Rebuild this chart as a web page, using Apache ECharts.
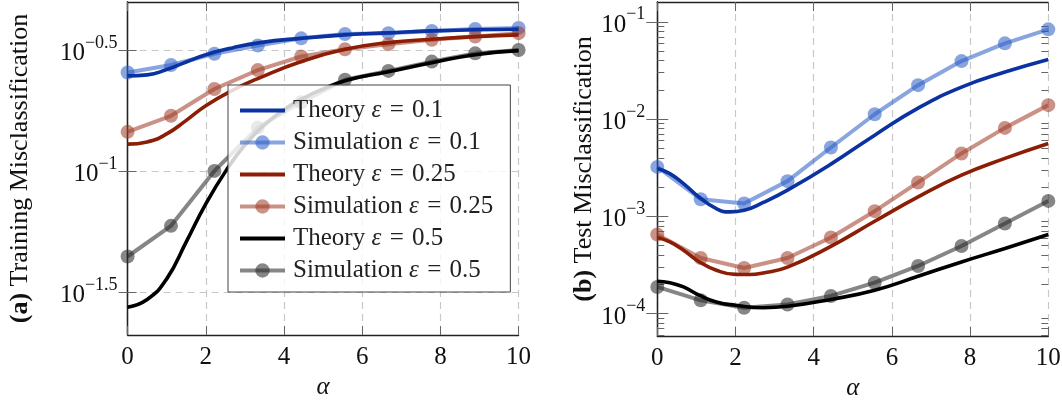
<!DOCTYPE html>
<html>
<head>
<meta charset="utf-8">
<script src="https://cdn.jsdelivr.net/npm/echarts@6/dist/echarts.min.js"></script>
<style>html,body{margin:0;padding:0;background:#fff}#c{width:1062px;height:403px}</style>
</head>
<body>
<div id="c"></div>
<script>
// ---------- data ----------
const simAlpha = [0, 1.11, 2.22, 3.33, 4.44, 5.56, 6.67, 7.78, 8.89, 10];
const xTicks = [0, 2, 4, 6, 8, 10];

// (a) training misclassification
const trainSim01  = [0.255, 0.274, 0.305, 0.330, 0.353, 0.368, 0.371, 0.379, 0.386, 0.390];
const trainSim025 = [0.145, 0.169, 0.218, 0.261, 0.297, 0.318, 0.334, 0.348, 0.359, 0.371];
const trainSim05  = [0.0443, 0.0593, 0.100, 0.151, 0.192, 0.238, 0.259, 0.283, 0.306, 0.316];

const trainTh01X = [0, 0.5, 1.0, 1.5, 2.0, 2.70, 3.39, 4.41, 5.56, 6.67, 7.78, 8.89, 10];
const trainTh01  = [0.247, 0.2493, 0.2623, 0.282, 0.302, 0.323, 0.339, 0.353, 0.365, 0.372, 0.379, 0.383, 0.385];
const trainTh025X = [0, 0.5, 1.0, 1.5, 2.0, 2.70, 3.39, 4.41, 5.56, 6.67, 7.78, 8.89, 10];
const trainTh025  = [0.129, 0.1318, 0.1422, 0.1618, 0.186, 0.216, 0.243, 0.282, 0.318, 0.339, 0.350, 0.359, 0.365];
const trainTh05X = [0, 0.5, 1.0, 1.5, 2.0, 2.53, 3.0, 3.5, 4.0, 4.5, 5.0, 5.56, 6.67, 7.78, 8.89, 10];
const trainTh05  = [0.02735, 0.0294, 0.0358, 0.0509, 0.0731, 0.101, 0.128, 0.155, 0.179, 0.200, 0.218, 0.236, 0.257, 0.280, 0.302, 0.314];
const trainYTicks = [Math.pow(10, -1.5), Math.pow(10, -1), Math.pow(10, -0.5)];
const trainYTickLabels = ['−1.5', '−1', '−0.5'];

// (b) test misclassification
const testSim01  = [3.22e-3, 1.50e-3, 1.355e-3, 2.30e-3, 5.10e-3, 0.0112, 0.0223, 0.0394, 0.060, 0.0835];
const testSim025 = [6.50e-4, 3.73e-4, 2.94e-4, 3.73e-4, 6.05e-4, 1.13e-3, 2.23e-3, 4.43e-3, 8.11e-3, 0.0139];
const testSim05  = [1.88e-4, 1.37e-4, 1.15e-4, 1.24e-4, 1.52e-4, 2.08e-4, 3.09e-4, 4.96e-4, 8.43e-4, 1.44e-3];

const testTh01X = [0, 0.32, 0.67, 1.08, 1.51, 1.85, 2.22, 2.71, 3.33, 4.44, 5.56, 6.67, 7.78, 8.89, 10];
const testTh01  = [3.10e-3, 2.75e-3, 2.17e-3, 1.56e-3, 1.20e-3, 1.11e-3, 1.155e-3, 1.39e-3, 1.86e-3, 3.44e-3, 6.83e-3, 0.01294, 0.02128, 0.0304, 0.0410];
const testTh025X = [0, 0.32, 0.67, 1.08, 1.51, 2.0, 2.37, 2.71, 3.33, 4.44, 5.56, 6.67, 7.78, 8.89, 10];
const testTh025  = [6.05e-4, 5.45e-4, 4.48e-4, 3.40e-4, 2.79e-4, 2.53e-4, 2.52e-4, 2.62e-4, 3.01e-4, 4.92e-4, 8.9e-4, 1.585e-3, 2.65e-3, 3.94e-3, 5.61e-3];
const testTh05X = [0, 0.32, 0.67, 1.08, 1.51, 2.0, 2.71, 3.33, 4.44, 5.56, 6.67, 7.78, 8.89, 10];
const testTh05  = [2.15e-4, 2.08e-4, 1.88e-4, 1.54e-4, 1.32e-4, 1.22e-4, 1.15e-4, 1.19e-4, 1.40e-4, 1.74e-4, 2.42e-4, 3.40e-4, 4.67e-4, 6.50e-4];
const testYTicks = [1e-4, 1e-3, 1e-2, 1e-1];
const testYTickLabels = ['−4', '−3', '−2', '−1'];
const testMinorTicks = [6e-5, 7e-5, 8e-5, 9e-5,
  2e-4, 3e-4, 4e-4, 5e-4, 6e-4, 7e-4, 8e-4, 9e-4,
  2e-3, 3e-3, 4e-3, 5e-3, 6e-3, 7e-3, 8e-3, 9e-3,
  2e-2, 3e-2, 4e-2, 5e-2, 6e-2, 7e-2, 8e-2, 9e-2];

const names = ['Theory ε = 0.1', 'Simulation ε = 0.1', 'Theory ε = 0.25', 'Simulation ε = 0.25', 'Theory ε = 0.5', 'Simulation ε = 0.5'];

// ---------- styling ----------
const FONT = 'Liberation Serif';
const FS = 25;
const cTh = ['#0a32a0', '#8c1e05', '#000000'];
const cSim = ['rgba(45,95,200,0.56)', 'rgba(160,60,40,0.56)', 'rgba(40,40,40,0.56)'];
const axisCol = '#222';
const tickCol = '#666';
const gridLine = { show: true, lineStyle: { color: '#c8c8c8', width: 1.2, type: [7, 5] } };

function zip(xs, ys) { return xs.map((x, i) => [x, ys[i]]); }
function supLabel(ticks, labels) {
  return function (v) {
    let best = 0, bd = Infinity;
    ticks.forEach((t, i) => { const d = Math.abs(Math.log10(t) - Math.log10(v)); if (d < bd) { bd = d; best = i; } });
    return '{b|10}{s|' + labels[best] + '}';
  };
}
const richSup = {
  b: { fontFamily: FONT, fontSize: FS, color: '#111', verticalAlign: 'bottom', lineHeight: 32 },
  s: { fontFamily: FONT, fontSize: 18, color: '#111', verticalAlign: 'top', lineHeight: 18 }
};

function xAxes(gridIndex, split) {
  return [
    { type: 'value', gridIndex, min: 0, max: 10, interval: 2, position: 'bottom',
      axisLine: { show: true, onZero: false, lineStyle: { color: axisCol, width: 1.3 } },
      axisTick: { show: true, inside: true, length: 9, lineStyle: { color: tickCol, width: 1 } },
      axisLabel: { show: true, margin: 10, fontFamily: FONT, fontSize: FS, color: '#111',
        customValues: xTicks },
      splitLine: split,
      name: 'α', nameLocation: 'middle', nameGap: 39,
      nameTextStyle: { fontFamily: FONT, fontSize: FS, fontStyle: 'italic', color: '#111' } },
    { type: 'value', gridIndex, min: 0, max: 10, interval: 2, position: 'top',
      axisLine: { show: true, onZero: false, lineStyle: { color: axisCol, width: 1.3 } },
      axisTick: { show: true, inside: true, length: 9, lineStyle: { color: tickCol, width: 1 } },
      axisLabel: { show: false }, splitLine: { show: false } }
  ];
}
const TFS = 26;
const titleStyle = { fontFamily: FONT, fontSize: TFS, color: '#111',
  rich: { a: { fontFamily: FONT, fontSize: TFS, fontWeight: 'bold', color: '#111' } } };

const option = {
  animation: false,
  backgroundColor: '#fff',
  grid: [
    { left: 127.6, top: 2, width: 391, height: 333, outerBoundsMode: 'none', containLabel: false },
    { left: 657.3, top: 2, width: 391, height: 334, outerBoundsMode: 'none', containLabel: false }
  ],
  xAxis: [
    ...xAxes(0, gridLine),
    ...xAxes(1, gridLine)
  ],
  yAxis: [
    { type: 'log', gridIndex: 0, logBase: Math.sqrt(10), splitNumber: 3,
      min: Math.pow(10, -1.678), max: Math.pow(10, -0.302), position: 'left',
      axisLine: { show: true, lineStyle: { color: axisCol, width: 1.3 } },
      axisTick: { show: true, inside: true, length: 9, lineStyle: { color: tickCol, width: 1 }, customValues: trainYTicks },
      axisLabel: { show: true, margin: 10, customValues: trainYTicks, formatter: supLabel(trainYTicks, trainYTickLabels), rich: richSup },
      splitLine: gridLine,
      name: '{a|(a)} Training Misclassification', nameLocation: 'middle', nameGap: 94, nameRotate: 90,
      nameTextStyle: titleStyle },
    { type: 'log', gridIndex: 0, logBase: Math.sqrt(10), splitNumber: 3,
      min: Math.pow(10, -1.678), max: Math.pow(10, -0.302), position: 'right',
      axisLine: { show: true, lineStyle: { color: axisCol, width: 1.3 } },
      axisTick: { show: true, inside: true, length: 9, lineStyle: { color: tickCol, width: 1 }, customValues: trainYTicks },
      axisLabel: { show: false }, splitLine: { show: false } },
    { type: 'log', gridIndex: 1, splitNumber: 3,
      min: Math.pow(10, -4.23), max: Math.pow(10, -0.797), position: 'left',
      axisLine: { show: true, lineStyle: { color: axisCol, width: 1.3 } },
      axisTick: { show: true, inside: true, length: 11, lineStyle: { color: tickCol, width: 1 }, customValues: testYTicks },
      axisLabel: { show: true, margin: 12, customValues: testYTicks, formatter: supLabel(testYTicks, testYTickLabels), rich: richSup },
      splitLine: { show: false },
      name: '{a|(b)} Test Misclassification', nameLocation: 'middle', nameGap: 58, nameRotate: 90,
      nameTextStyle: titleStyle },
    { type: 'log', gridIndex: 1, splitNumber: 3,
      min: Math.pow(10, -4.23), max: Math.pow(10, -0.797), position: 'right',
      axisLine: { show: true, lineStyle: { color: axisCol, width: 1.3 } },
      axisTick: { show: true, inside: true, length: 11, lineStyle: { color: tickCol, width: 1 }, customValues: testYTicks },
      axisLabel: { show: false }, splitLine: { show: false } },
    { type: 'log', gridIndex: 1, splitNumber: 3,
      min: Math.pow(10, -4.23), max: Math.pow(10, -0.797), position: 'left',
      axisLine: { show: false },
      axisTick: { show: true, inside: true, length: 7, lineStyle: { color: tickCol, width: 1 }, customValues: testMinorTicks },
      axisLabel: { show: false }, splitLine: { show: false } },
    { type: 'log', gridIndex: 1, splitNumber: 3,
      min: Math.pow(10, -4.23), max: Math.pow(10, -0.797), position: 'right',
      axisLine: { show: false },
      axisTick: { show: true, inside: true, length: 7, lineStyle: { color: tickCol, width: 1 }, customValues: testMinorTicks },
      axisLabel: { show: false }, splitLine: { show: false } }
  ],
  legend: {
    show: true,
    data: names.map((n, i) => i % 2 === 0
      ? { name: n, itemStyle: { opacity: 0 }, lineStyle: { width: 4 } }
      : { name: n, lineStyle: { width: 4 } }),
    orient: 'vertical',
    left: 228, top: 85,
    padding: [13, 17, 9, 10],
    itemWidth: 45, itemHeight: 18, itemGap: 7,
    backgroundColor: 'rgba(255,255,255,0.82)',
    borderColor: '#444', borderWidth: 1, borderRadius: 0,
    textStyle: { fontFamily: FONT, fontSize: FS, color: '#222', lineHeight: 22, padding: [0, 0, 0, 3],
      rich: { e: { fontFamily: FONT, fontSize: FS, fontStyle: 'italic', color: '#222', lineHeight: 22 } } },
    formatter: n => n.replace(' = ', '\u2004=\u2004').replace('ε', '{e|ε}')
  },
  series: []
};

function theory(name, xi, yi, xs, ys, color) {
  return { type: 'line', name, xAxisIndex: xi, yAxisIndex: yi, data: zip(xs, ys), smooth: 0.5,
    symbol: 'none', lineStyle: { color, width: 3.6 }, itemStyle: { color }, z: 3 };
}
function sim(name, xi, yi, ys, color) {
  return { type: 'line', name, xAxisIndex: xi, yAxisIndex: yi, data: zip(simAlpha, ys),
    symbol: 'circle', symbolSize: 14, showSymbol: true,
    lineStyle: { color, width: 4 }, itemStyle: { color }, z: 2 };
}
option.series.push(
  theory(names[0], 0, 0, trainTh01X, trainTh01, cTh[0]),
  sim(names[1], 0, 0, trainSim01, cSim[0]),
  theory(names[2], 0, 0, trainTh025X, trainTh025, cTh[1]),
  sim(names[3], 0, 0, trainSim025, cSim[1]),
  theory(names[4], 0, 0, trainTh05X, trainTh05, cTh[2]),
  sim(names[5], 0, 0, trainSim05, cSim[2]),
  theory(names[0], 2, 2, testTh01X, testTh01, cTh[0]),
  sim(names[1], 2, 2, testSim01, cSim[0]),
  theory(names[2], 2, 2, testTh025X, testTh025, cTh[1]),
  sim(names[3], 2, 2, testSim025, cSim[1]),
  theory(names[4], 2, 2, testTh05X, testTh05, cTh[2]),
  sim(names[5], 2, 2, testSim05, cSim[2])
);

const chart = echarts.init(document.getElementById('c'), null, { renderer: 'canvas' });
chart.setOption(option);
</script>
</body>
</html>
